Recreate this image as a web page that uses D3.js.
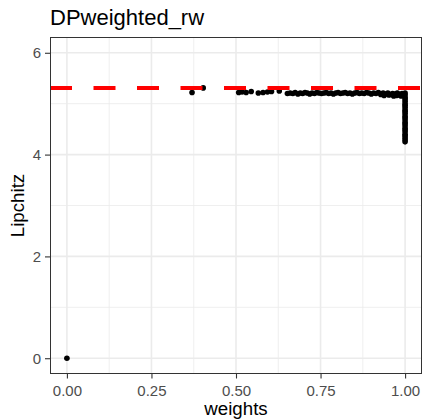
<!DOCTYPE html>
<html>
<head>
<meta charset="utf-8">
<script src="https://cdn.jsdelivr.net/npm/d3@7"></script>
<style>
  body{margin:0;background:#fff}
  text{font-family:"Liberation Sans",Arial,sans-serif}
</style>
</head>
<body>
<script>
// data
var weights=[0.000,0.370,0.403,0.508,0.518,0.530,0.545,0.566,0.580,0.593,0.605,0.628,0.652,
  0.660,0.668,0.675,0.683,0.690,0.697,0.704,0.711,0.718,0.725,0.732,0.739,0.746,0.753,0.760,0.767,
  0.774,0.781,0.788,0.795,0.802,0.809,0.816,0.823,0.830,0.837,0.844,0.851,0.858,0.865,0.872,0.879,
  0.886,0.893,0.900,0.907,0.914,0.921,0.928,0.935,0.942,0.949,0.956,0.963,0.970,0.977,0.984,0.991,0.996,
  0.938,0.952,0.966,0.974,0.981,0.988,
  1,1,1,1,1,1,1,1,1,1,1,1,1,1,1,1,1,1,1,1,1,1,1,1,1]
var lipchitz=[0.000,5.22,5.31,5.22,5.23,5.22,5.24,5.21,5.22,5.23,5.24,5.25,5.20,
  5.21,5.20,5.22,5.19,5.21,5.20,5.22,5.21,5.19,5.21,5.20,5.22,5.21,5.20,5.21,5.22,
  5.20,5.21,5.19,5.21,5.22,5.20,5.21,5.22,5.20,5.21,5.19,5.21,5.22,5.20,5.21,5.20,
  5.22,5.21,5.19,5.21,5.20,5.22,5.18,5.21,5.19,5.21,5.18,5.20,5.19,5.21,5.18,5.20,5.19,
  5.16,5.17,5.15,5.16,5.17,5.15,
  5.21,5.17,5.12,5.09,5.05,5.00,4.97,4.93,4.88,4.85,4.81,4.76,4.73,4.69,4.64,4.61,4.57,4.52,4.49,4.45,4.40,4.37,4.33,4.29,4.25]
var hline=5.31
var xTicks=[0,0.25,0.5,0.75,1]
var xMinor=[0.125,0.375,0.625,0.875]
var yTicks=[0,2,4,6]
var yMinor=[1,3,5]

var W=422,H=419
var panel={left:50,right:422,top:37.5,bottom:373.5}
var svg=d3.select("body").append("svg").attr("width",W).attr("height",H)

var xScale=d3.scaleLinear().domain([-0.05,1.05]).range([panel.left,panel.right])
var yScale=d3.scaleLinear().domain([-0.3,6.3]).range([panel.bottom,panel.top])

//grid
var grid=svg.append("g")
grid.selectAll(".vmin").data(xMinor).enter().append("line")
  .attr("x1",function(d){return xScale(d)}).attr("x2",function(d){return xScale(d)})
  .attr("y1",panel.top).attr("y2",panel.bottom)
  .style("stroke","#ebebeb").style("stroke-width",0.8)
grid.selectAll(".hmin").data(yMinor).enter().append("line")
  .attr("y1",function(d){return yScale(d)}).attr("y2",function(d){return yScale(d)})
  .attr("x1",panel.left).attr("x2",panel.right)
  .style("stroke","#ebebeb").style("stroke-width",0.8)
grid.selectAll(".vmaj").data(xTicks).enter().append("line")
  .attr("x1",function(d){return xScale(d)}).attr("x2",function(d){return xScale(d)})
  .attr("y1",panel.top).attr("y2",panel.bottom)
  .style("stroke","#ebebeb").style("stroke-width",1.6)
grid.selectAll(".hmaj").data(yTicks).enter().append("line")
  .attr("y1",function(d){return yScale(d)}).attr("y2",function(d){return yScale(d)})
  .attr("x1",panel.left).attr("x2",panel.right)
  .style("stroke","#ebebeb").style("stroke-width",1.6)

//points
svg.append("g").selectAll("circle")
  .data(weights.map(function(w,i){return {w:w,l:lipchitz[i]}}))
  .enter().append("circle")
  .attr("cx",function(d){return xScale(d.w)})
  .attr("cy",function(d){return yScale(d.l)})
  .attr("r",2.8)
  .attr("fill","black")

//dashed line
svg.append("line")
  .attr("x1",panel.left).attr("x2",panel.right)
  .attr("y1",yScale(hline)).attr("y2",yScale(hline))
  .style("stroke","#ff0000").style("stroke-width",4)
  .style("stroke-dasharray","22,21.5")

//border
svg.append("rect")
  .attr("x",panel.left+0.5).attr("y",panel.top)
  .attr("width",panel.right-panel.left-1).attr("height",panel.bottom-panel.top)
  .attr("fill","none").style("stroke","#333").style("stroke-width",1)

//axes
var xAxis=d3.axisBottom(xScale).tickValues(xTicks).tickFormat(d3.format(".2f")).tickSize(5).tickPadding(3)
var yAxis=d3.axisLeft(yScale).tickValues(yTicks).tickFormat(d3.format("d")).tickSize(5).tickPadding(4)
var gx=svg.append("g").attr("transform","translate(0,"+panel.bottom+")").call(xAxis)
var gy=svg.append("g").attr("transform","translate("+panel.left+",0)").call(yAxis)
;[gx,gy].forEach(function(g){
  g.select(".domain").remove()
  g.selectAll(".tick line").style("stroke","#333").style("stroke-width",1.1)
  g.selectAll(".tick text").style("fill","#4d4d4d").style("font-size","15px")
})
gx.selectAll(".tick text").attr("dy","0.95em")

//labels
svg.append("text").attr("x",50).attr("y",25)
  .style("font-size","22px").style("fill","black").text("DPweighted_rw")
svg.append("text").attr("x",(panel.left+panel.right)/2).attr("y",415)
  .attr("text-anchor","middle").style("font-size","18.7px").text("weights")
svg.append("text").attr("transform","translate(24,"+((panel.top+panel.bottom)/2)+") rotate(-90)")
  .attr("text-anchor","middle").style("font-size","18.7px").text("Lipchitz")
</script>
</body>
</html>
